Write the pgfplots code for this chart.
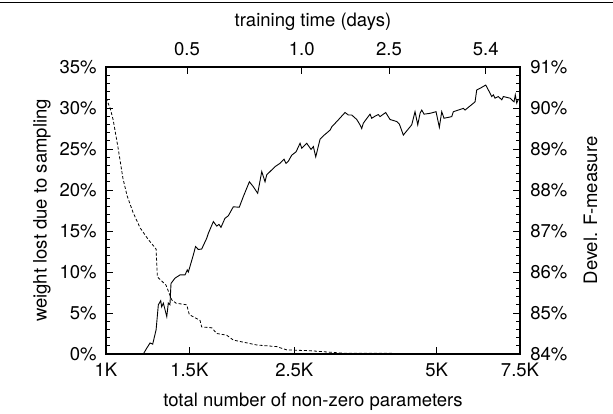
\documentclass[border=0pt]{standalone}
\usepackage{fontspec}
\setmainfont{TeX Gyre Heros}
\usepackage{pgfplots}
\pgfplotsset{compat=1.18}

\pgfplotsset{
  twin/.style={
    at={(106pt,59pt)}, anchor=south west,
    scale only axis, width=414pt, height=287pt,
    xmin=1000, xmax=7500,
    xminorticks=false,
    tick align=inside,
    major tick length=7pt, minor tick length=4pt,
    minor y tick num=4,
    axis line style={line width=1.5pt},
    every tick/.style={black, line width=0.9pt},
    /pgf/number format/assume math mode=true,
    yticklabel={\pgfmathprintnumber{\tick}\%},
  },
}

\begin{document}
\fontsize{18.5}{22}\selectfont
\begin{tikzpicture}[x=1pt,y=1pt]
\useasboundingbox (0,0) rectangle (613,413);
\draw[line width=1.2pt] (0,410.5) -- (613,410.5);

% weight lost due to sampling (left axis)
\begin{semilogxaxis}[
  twin,
  ymin=0, ymax=35,
  ytick={0,5,...,35},
  xtick={1000,1500,2500,5000,7500},
  xticklabels={1K,1.5K,2.5K,5K,7.5K},
  xtick pos=bottom, ytick pos=left,
  xticklabel style={yshift=-2.5pt},
  yticklabel style={xshift=-3pt},
  xlabel={total number of non-zero parameters},
  ylabel={weight lost due to sampling},
  every axis x label/.style={at={(axis description cs:0.5,-0.167)}, anchor=center},
  every axis y label/.style={at={(axis description cs:-0.1546,0.5)}, rotate=90, anchor=center},
]
\addplot[black, line width=0.8pt, dash pattern=on 3pt off 2pt] coordinates {
(1000,31.2) (1020,30.0) (1035,28.6) (1060,25.2) (1086,21.4) (1108,19.3)
(1140,17.3) (1180,15.4) (1227,14.0) (1276,12.8) (1284,9.4) (1339,8.4)
(1377,6.6) (1406,6.2) (1481,6.0) (1500,4.8) (1580,4.1) (1593,3.3)
(1673,3.2) (1714,2.5) (1799,2.3) (1858,1.7) (2082,1.1) (2295,0.9)
(2410,0.5) (2699,0.4) (3169,0.1) (5008,0.05)
};
\end{semilogxaxis}

% development F-measure (right axis), training time on top
\begin{semilogxaxis}[
  twin,
  ymin=84, ymax=91,
  ytick={84,85,...,91},
  axis x line*=top, axis y line*=right,
  xtick={1483,2592,3965,6347},
  xticklabels={0.5,1.0,2.5,5.4},
  xticklabel style={yshift=5pt},
  yticklabel style={xshift=4pt},
  xlabel={training time (days)},
  ylabel={Devel. F-measure},
  every axis x label/.style={at={(axis description cs:0.5,1.157)}, anchor=center},
  every axis y label/.style={at={(axis description cs:1.1703,0.5)}, rotate=90, anchor=center},
]
\addplot[black, line width=0.9pt] coordinates {
(1199,84.0) (1219,84.14) (1239,84.27) (1255,84.24) (1276,84.59) (1290,85.2)
(1305,85.3) (1311,85.15) (1322,85.24) (1344,84.91) (1354,85.24) (1365,85.2)
(1372,85.72) (1399,85.85) (1434,85.93) (1469,85.93) (1485,86.05) (1493,86.0)
(1529,86.41) (1546,86.62) (1567,86.55) (1593,86.56) (1632,86.82) (1645,86.94)
(1686,87.23) (1714,87.12) (1733,87.16) (1750,87.09) (1784,87.31) (1813,87.37)
(1858,87.59) (1913,87.58) (1951,87.84) (2009,88.2) (2048,88.08) (2092,87.92)
(2134,88.45) (2168,88.2) (2186,88.37) (2222,88.45) (2276,88.57) (2332,88.65)
(2378,88.75) (2401,88.65) (2428,88.7) (2469,88.85) (2521,88.93) (2571,89.14)
(2592,89.02) (2656,89.14) (2712,88.99) (2743,89.06) (2775,88.81) (2834,89.24)
(2879,89.32) (2975,89.46) (3000,89.54) (3097,89.71) (3200,89.89) (3252,89.83)
(3306,89.83) (3388,89.72) (3442,89.59) (3471,89.5) (3498,89.63) (3614,89.85)
(3644,89.75) (3703,89.8) (3763,89.84) (3794,89.79) (3901,89.89) (3984,89.72)
(4116,89.67) (4168,89.61) (4250,89.34) (4334,89.46) (4427,89.59) (4499,89.91)
(4559,89.59) (4610,89.87) (4648,89.95) (4701,89.85) (4840,89.87) (4983,89.91)
(5064,89.53) (5123,89.91) (5181,89.75) (5379,89.79) (5421,89.91) (5555,89.95)
(5691,89.99) (5739,89.95) (6025,90.15) (6075,90.44) (6173,90.48) (6347,90.56)
(6428,90.44) (6535,90.28) (6586,90.32) (6641,90.24) (6748,90.28) (6861,90.2)
(6915,90.28) (7144,90.24) (7284,90.15) (7330,90.32) (7381,90.12) (7438,90.21)
(7500,90.2)
};
\end{semilogxaxis}
\end{tikzpicture}
\end{document}
